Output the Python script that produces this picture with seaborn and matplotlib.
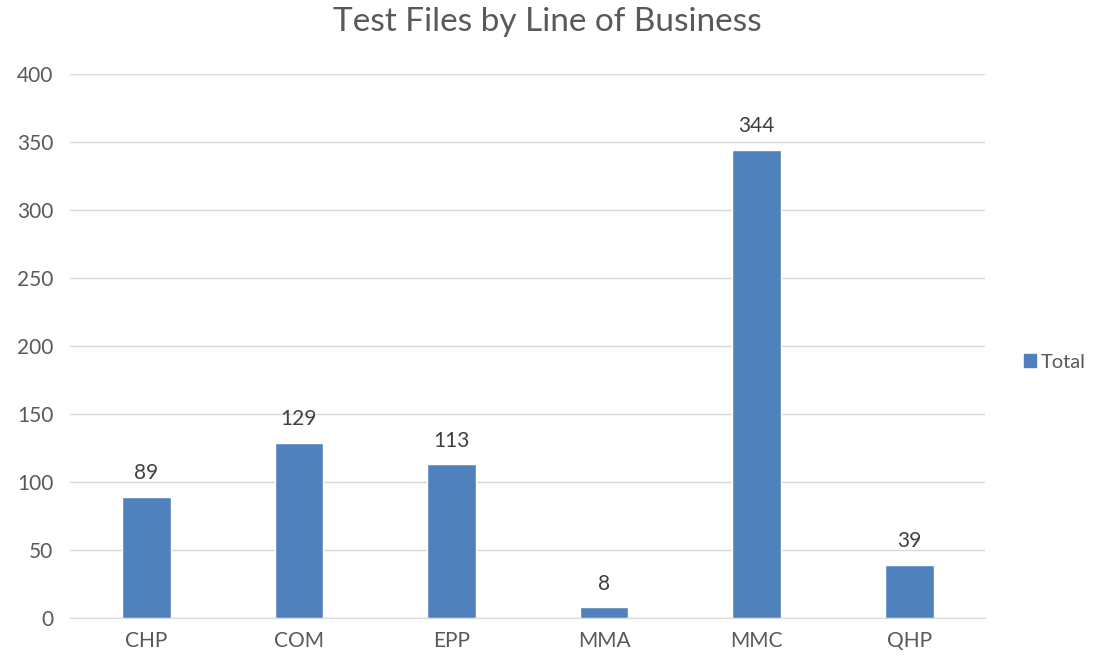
import matplotlib
matplotlib.use("Agg")
import matplotlib.pyplot as plt
import seaborn as sns
import pandas as pd
from matplotlib.patches import Patch

categories = ['CHP', 'COM', 'EPP', 'MMA', 'MMC', 'QHP']
totals = [89, 129, 113, 8, 344, 39]

df = pd.DataFrame({'line': categories, 'Total': totals})

sns.set_style("white")
plt.rcParams['font.family'] = ['Lato', 'DejaVu Sans']

bar_color = '#4F81BD'
text_color = '#595959'

fig = plt.figure(figsize=(10.95, 6.59), dpi=100)
ax = fig.add_axes([0.064, 0.062, 0.836, 0.826])

sns.barplot(data=df, x='line', y='Total', color=bar_color, width=0.32, ax=ax, saturation=1)

for i, v in enumerate(totals):
    ax.text(i, v + 10, str(v), ha='center', va='bottom', fontsize=15, color='#404040')

ax.set_ylim(0, 400)
ax.set_yticks(range(0, 401, 50))
ax.yaxis.grid(True, color='#D9D9D9', linewidth=1)
ax.set_axisbelow(True)
for side in ['top', 'right', 'left']:
    ax.spines[side].set_visible(False)
ax.spines['bottom'].set_color('#D9D9D9')
ax.tick_params(axis='both', length=0, labelsize=15, colors=text_color)
ax.tick_params(axis='y', pad=12)
ax.tick_params(axis='x', pad=9)
ax.set_xlabel('')
ax.set_ylabel('')

fig.suptitle('Test Files by Line of Business', fontsize=24, color=text_color, y=0.99)

fig.legend(handles=[Patch(color=bar_color, label='Total')], loc='center left',
           bbox_to_anchor=(0.935, 0.45), frameon=False, fontsize=14.5,
           handlelength=0.6, handleheight=0.6, handletextpad=0.25,
           borderpad=0, borderaxespad=0, labelcolor=text_color)

fig.savefig('out.png', dpi=100)
